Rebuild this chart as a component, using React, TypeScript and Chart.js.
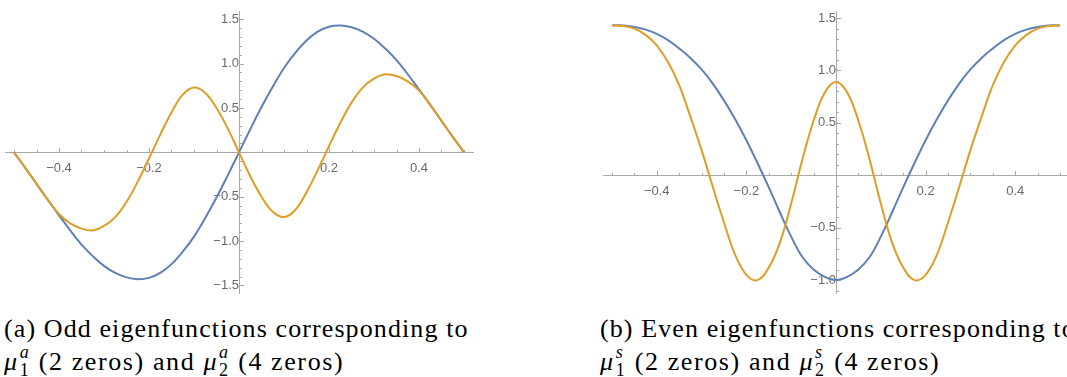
import React, { useEffect, useRef } from "react";
import { Chart, registerables } from "chart.js";

Chart.register(...registerables);

// x samples (shared by all four curves)
const xs = [
  -0.5, -0.475, -0.45, -0.425, -0.4, -0.375, -0.35, -0.325, -0.3, -0.275,
  -0.25, -0.225, -0.2, -0.175, -0.15, -0.125, -0.1, -0.075, -0.05, -0.025,
  0, 0.025, 0.05, 0.075, 0.1, 0.125, 0.15, 0.175, 0.2, 0.225,
  0.25, 0.275, 0.3, 0.325, 0.35, 0.375, 0.4, 0.425, 0.45, 0.475, 0.5,
];

// (a) odd eigenfunctions
const oddMu1 = [
  0, -0.175, -0.355, -0.535, -0.71, -0.88, -1.04, -1.17, -1.28, -1.36,
  -1.41, -1.43, -1.415, -1.36, -1.26, -1.12, -0.95, -0.74, -0.51, -0.26,
  0, 0.26, 0.51, 0.74, 0.95, 1.12, 1.26, 1.36, 1.415, 1.43,
  1.41, 1.36, 1.28, 1.17, 1.04, 0.88, 0.71, 0.535, 0.355, 0.175, 0,
];
const oddMu2 = [
  0, -0.175, -0.355, -0.535, -0.695, -0.8, -0.86, -0.88, -0.83, -0.73,
  -0.56, -0.33, -0.07, 0.2, 0.45, 0.65, 0.73, 0.67, 0.5, 0.27,
  0, -0.27, -0.5, -0.67, -0.73, -0.65, -0.45, -0.2, 0.07, 0.33,
  0.56, 0.73, 0.83, 0.88, 0.86, 0.8, 0.695, 0.535, 0.355, 0.175, 0,
];

// (b) even eigenfunctions
const evenMu1 = [
  1.43, 1.43, 1.415, 1.39, 1.35, 1.29, 1.21, 1.12, 1.01, 0.875,
  0.715, 0.535, 0.335, 0.115, -0.115, -0.355, -0.585, -0.78, -0.9, -0.97,
  -1.0, -0.97, -0.9, -0.78, -0.585, -0.355, -0.115, 0.115, 0.335, 0.535,
  0.715, 0.875, 1.01, 1.12, 1.21, 1.29, 1.35, 1.39, 1.415, 1.43, 1.43,
];
const evenMu2 = [
  1.43, 1.425, 1.4, 1.34, 1.24, 1.08, 0.86, 0.56, 0.24, -0.11,
  -0.45, -0.76, -0.95, -1.0, -0.88, -0.64, -0.27, 0.15, 0.52, 0.79,
  0.89, 0.79, 0.52, 0.15, -0.27, -0.64, -0.88, -1.0, -0.95, -0.76,
  -0.45, -0.11, 0.24, 0.56, 0.86, 1.08, 1.24, 1.34, 1.4, 1.425, 1.43,
];

// tick labels
const xTickLabels = [-0.4, -0.2, 0.2, 0.4];
const yTickLabelsOdd = [-1.5, -1.0, -0.5, 0.5, 1.0, 1.5];
const yTickLabelsEven = [-1.0, -0.5, 0.5, 1.0, 1.5];

const BLUE = "#5E81B5";
const ORANGE = "#E19C24";
const AXIS = "#a8a8a8";
const LABEL = "#6a6a6a";

const fmt = (v: number) => {
  const s = Math.abs(v).toFixed(1);
  return v < 0 ? "\u2212" + s : s;
};

const tickPlugin = {
  id: "mmaTicks",
  beforeDatasetsDraw(chart: any) {
    const { ctx, scales } = chart;
    const sx = scales.x;
    const sy = scales.y;
    const axY = Math.round(sy.getPixelForValue(0)) + 0.5;
    const axX = Math.round(sx.getPixelForValue(0)) + 0.5;
    ctx.save();
    ctx.strokeStyle = AXIS;
    ctx.lineWidth = 1;
    ctx.beginPath();
    for (let i = -10; i <= 10; i++) {
      if (i === 0) continue;
      const v = i * 0.05;
      if (v < sx.min || v > sx.max) continue;
      const px = Math.round(sx.getPixelForValue(v)) + 0.5;
      const len = i % 4 === 0 ? 4.5 : 2.5;
      ctx.moveTo(px, axY);
      ctx.lineTo(px, axY - len);
    }
    for (let i = -20; i <= 20; i++) {
      if (i === 0) continue;
      const v = i * 0.1;
      if (v < sy.min || v > sy.max) continue;
      const py = Math.round(sy.getPixelForValue(v)) + 0.5;
      const len = i % 5 === 0 ? 4.5 : 2.5;
      ctx.moveTo(axX, py);
      ctx.lineTo(axX + len, py);
    }
    ctx.stroke();
    ctx.restore();
  },
};

function makeConfig(
  s1: number[],
  s2: number[],
  yMin: number,
  yMax: number,
  yLabels: number[],
  padding: any
): any {
  const font = { family: "'Liberation Sans', Arial, sans-serif", size: 13 };
  return {
    type: "line",
    data: {
      datasets: [
        {
          data: xs.map((x, i) => ({ x, y: s1[i] })),
          borderColor: BLUE,
          borderWidth: 2,
          pointRadius: 0,
          tension: 0.4,
          fill: false,
          order: 1,
        },
        {
          data: xs.map((x, i) => ({ x, y: s2[i] })),
          borderColor: ORANGE,
          borderWidth: 2,
          pointRadius: 0,
          tension: 0.4,
          fill: false,
          order: 0,
        },
      ],
    },
    options: {
      animation: false,
      responsive: false,
      maintainAspectRatio: false,
      layout: { padding },
      plugins: { legend: { display: false }, tooltip: { enabled: false } },
      scales: {
        x: {
          type: "linear",
          min: -0.52,
          max: 0.52,
          position: { y: 0 },
          grid: { display: false, drawTicks: false },
          border: { display: true, color: AXIS, width: 1 },
          ticks: {
            font,
            color: LABEL,
            padding: 8,
            autoSkip: false,
            maxRotation: 0,
            callback: (v: number) => fmt(v),
          },
          afterBuildTicks: (s: any) => {
            s.ticks = xTickLabels.map((v) => ({ value: v }));
          },
        },
        y: {
          type: "linear",
          min: yMin,
          max: yMax,
          position: { x: 0 },
          grid: { display: false, drawTicks: false },
          border: { display: true, color: AXIS, width: 1 },
          ticks: {
            font,
            color: LABEL,
            padding: 4,
            autoSkip: false,
            callback: (v: number) => fmt(v),
          },
          afterBuildTicks: (s: any) => {
            s.ticks = yLabels.map((v) => ({ value: v }));
          },
        },
      },
    },
    plugins: [tickPlugin],
  };
}

const SERIF = "'Liberation Serif', Tinos, 'Times New Roman', serif";

function Mu({ sub, sup }: { sub: string; sup: string }) {
  return (
    <span style={{ whiteSpace: "nowrap" }}>
      <i>μ</i>
      <span
        style={{
          display: "inline-block",
          position: "relative",
          width: 12,
          height: 26,
        }}
      >
        <i style={{ position: "absolute", left: 1, top: -5, fontSize: 18 }}>{sup}</i>
        <span style={{ position: "absolute", left: 1, top: 13, fontSize: 18 }}>{sub}</span>
      </span>
    </span>
  );
}

function captionStyle(left: number, top: number, spacing: number): React.CSSProperties {
  return {
    position: "absolute",
    left,
    top,
    fontFamily: SERIF,
    fontSize: 26,
    lineHeight: "26px",
    letterSpacing: spacing + "px",
    color: "#000",
    whiteSpace: "nowrap",
  };
}

export default function App() {
  const leftRef = useRef<HTMLCanvasElement>(null);
  const rightRef = useRef<HTMLCanvasElement>(null);

  useEffect(() => {
    const c1 = new Chart(
      leftRef.current as HTMLCanvasElement,
      makeConfig(oddMu1, oddMu2, -1.588, 1.584, yTickLabelsOdd, {
        left: 5,
        right: 7,
        top: 10,
        bottom: 7,
      })
    );
    const c2 = new Chart(
      rightRef.current as HTMLCanvasElement,
      makeConfig(evenMu1, evenMu2, -1.125, 1.56, yTickLabelsEven, {
        left: 13,
        right: 11,
        top: 10,
        bottom: 7,
      })
    );
    return () => {
      c1.destroy();
      c2.destroy();
    };
  }, []);

  return (
    <div
      style={{
        position: "absolute",
        left: 0,
        top: 0,
        width: 1067,
        height: 377,
        overflow: "hidden",
        background: "#fff",
        fontFamily: SERIF,
      }}
    >
      <canvas
        ref={leftRef}
        width={480}
        height={305}
        style={{ position: "absolute", left: 0, top: 0, width: 480, height: 305 }}
      />
      <canvas
        ref={rightRef}
        width={490}
        height={305}
        style={{ position: "absolute", left: 590, top: 0, width: 490, height: 305 }}
      />
      <div style={captionStyle(4, 316, 1.1)}>(a) Odd eigenfunctions corresponding to</div>
      <div style={captionStyle(4, 344, 1.6)}>
        <Mu sub="1" sup="a" /> (2 zeros) and <Mu sub="2" sup="a" /> (4 zeros)
      </div>
      <div style={captionStyle(600, 316, 1.1)}>(b) Even eigenfunctions corresponding to</div>
      <div style={captionStyle(600, 344, 1.6)}>
        <Mu sub="1" sup="s" /> (2 zeros) and <Mu sub="2" sup="s" /> (4 zeros)
      </div>
    </div>
  );
}
